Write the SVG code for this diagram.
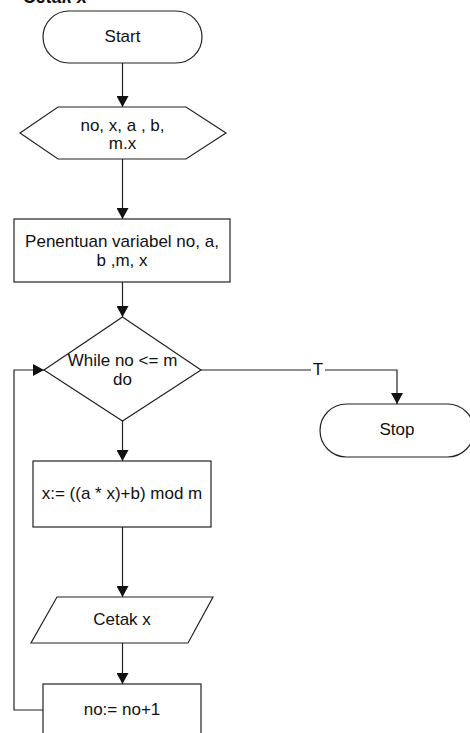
<svg xmlns="http://www.w3.org/2000/svg" width="470" height="733" viewBox="0 0 470 733">
<style>
.s{fill:#fff;stroke:#222;stroke-width:1.2}
.t{font-family:"Liberation Sans",Arial,sans-serif;font-size:17px;fill:#111;text-anchor:middle}
.c{fill:none;stroke:#222;stroke-width:1.2}
</style>
<defs>
<marker id="a" markerWidth="11" markerHeight="12" refX="11" refY="6" orient="auto" markerUnits="userSpaceOnUse">
<path d="M0,0 L11,6 L0,12 Z" fill="#111"/>
</marker>
</defs>
<rect width="470" height="733" fill="#fff"/>
<text x="87" y="2.5" style="font-family:'Liberation Sans',Arial,sans-serif;font-size:18px;font-weight:bold;font-style:italic;fill:#111;text-anchor:end">Cetak x</text>
<g id="connectors">
<line class="c" x1="122.5" y1="63" x2="122.5" y2="107" marker-end="url(#a)"/>
<line class="c" x1="122.5" y1="159" x2="122.5" y2="219" marker-end="url(#a)"/>
<line class="c" x1="122.5" y1="282" x2="122.5" y2="317" marker-end="url(#a)"/>
<polyline class="c" points="201,370 397,370 397,404" marker-end="url(#a)"/>
<rect x="311" y="362" width="14" height="16" fill="#fff"/>
<text class="t" x="318" y="375">T</text>
<line class="c" x1="122.5" y1="421" x2="122.5" y2="461" marker-end="url(#a)"/>
<line class="c" x1="122.5" y1="527" x2="122.5" y2="597" marker-end="url(#a)"/>
<line class="c" x1="122.5" y1="643" x2="122.5" y2="684" marker-end="url(#a)"/>
<polyline class="c" points="43,710 14,710 14,370 44,370" marker-end="url(#a)"/>
</g>
<g id="start">
<rect class="s" x="43" y="11" width="159" height="52" rx="26"/>
<text class="t" x="122.5" y="42">Start</text>
</g>
<g id="input">
<polygon class="s" points="20,133 58,107 186,107 226,133 186,159 58,159"/>
<text class="t" x="122.5" y="131">no, x, a , b,</text>
<text class="t" x="122.5" y="149">m.x</text>
</g>
<g id="init">
<rect class="s" x="14" y="219" width="216" height="63"/>
<text class="t" x="122" y="247">Penentuan variabel no, a,</text>
<text class="t" x="122" y="266">b ,m, x</text>
</g>
<g id="while">
<polygon class="s" points="122.5,317 201,370 122.5,421 44,370"/>
<text class="t" x="122.5" y="366">While no &lt;= m</text>
<text class="t" x="122.5" y="385">do</text>
</g>
<g id="stop">
<rect class="s" x="320" y="404" width="154" height="53" rx="26.5"/>
<text class="t" x="397" y="435">Stop</text>
</g>
<g id="calc">
<rect class="s" x="33" y="461" width="178" height="66"/>
<text class="t" x="122" y="499">x:= ((a * x)+b) mod m</text>
</g>
<g id="print">
<polygon class="s" points="57,597 213,597 188,643 31,643"/>
<text class="t" x="122" y="625">Cetak x</text>
</g>
<g id="incr">
<rect class="s" x="43" y="684" width="158" height="70"/>
<text class="t" x="122" y="715">no:= no+1</text>
</g>
</svg>
